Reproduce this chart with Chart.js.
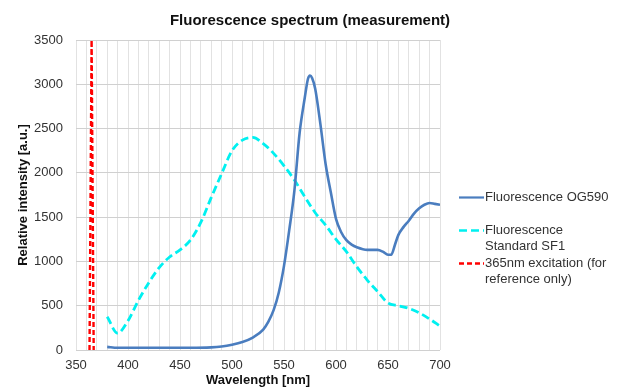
<!DOCTYPE html>
<html>
<head>
<meta charset="utf-8">
<script src="https://cdn.jsdelivr.net/npm/chart.js@4/dist/chart.umd.min.js"></script>
<style>
  html, body { margin: 0; padding: 0; background: #ffffff; }
  #wrap { position: relative; width: 620px; height: 388px; }
</style>
</head>
<body>
<div id="wrap"><canvas id="c" width="620" height="388"></canvas></div>
<script>
// ---- Data ----
const chartTitle = 'Fluorescence spectrum (measurement)';
const xAxisTitle = 'Wavelength [nm]';
const yAxisTitle = 'Relative intensity [a.u.]';

const xTickValues = [350, 400, 450, 500, 550, 600, 650, 700];
const yTickValues = [0, 500, 1000, 1500, 2000, 2500, 3000, 3500];

const og590Label = 'Fluorescence OG590';
const og590Wavelengths = [380, 390, 400, 420, 440, 460, 480, 490, 500, 510, 520, 530, 535, 540, 545, 550, 555, 560, 565, 570, 573, 575, 577, 580, 585, 590, 595, 600, 605, 610, 615, 620, 630, 640, 645, 650, 653, 657, 660, 665, 670, 675, 680, 685, 690, 695, 700];
const og590Values      = [35, 25, 25, 25, 25, 25, 30, 40, 60, 90, 140, 230, 320, 450, 650, 950, 1350, 1800, 2450, 2850, 3060, 3100, 3070, 2950, 2550, 2100, 1780, 1480, 1330, 1240, 1190, 1160, 1130, 1130, 1110, 1075, 1075, 1200, 1300, 1390, 1460, 1540, 1600, 1640, 1660, 1650, 1640];

const sf1Label = 'Fluorescence Standard SF1';
const sf1Wavelengths = [380, 390, 400, 410, 420, 430, 440, 450, 460, 470, 480, 490, 500, 510, 520, 530, 540, 550, 560, 570, 580, 590, 600, 610, 620, 630, 640, 650, 660, 670, 680, 690, 700];
const sf1Values      = [375, 190, 330, 560, 760, 930, 1050, 1130, 1240, 1440, 1720, 1990, 2250, 2370, 2400, 2330, 2220, 2080, 1920, 1730, 1550, 1410, 1250, 1110, 940, 790, 660, 530, 500, 470, 420, 350, 270];

const excitationLabel = '365nm excitation (for reference only)';
const excitationWavelengths = [363, 365, 367];
const excitationValues      = [0, 3500, 0];

function pairs(xs, ys) { return xs.map((x, i) => ({ x: x, y: ys[i] })); }

// ---- Title spans the whole canvas width (legend area included) ----
const wideTitle = {
  id: 'wideTitle',
  afterLayout(chart) {
    const tb = chart.titleBlock;
    if (tb) { tb.left = 0; tb.right = chart.width; tb.width = chart.width; }
  }
};

// ---- Custom legend drawn to the right of the plot ----
const sideLegend = {
  id: 'sideLegend',
  afterDraw(chart) {
    const ctx = chart.ctx;
    const lineX0 = 459, lineX1 = 484, textX = 485;
    const slot = 33, lineH = 16, maxW = 132;
    let y = 197;
    ctx.save();
    ctx.font = '13px "Liberation Sans", Arial, sans-serif';
    ctx.textBaseline = 'middle';
    ctx.textAlign = 'left';
    chart.data.datasets.forEach(ds => {
      const words = ds.label.split(' ');
      const lines = [];
      let cur = '';
      words.forEach(w => {
        const t = cur ? cur + ' ' + w : w;
        if (ctx.measureText(t).width > maxW && cur) { lines.push(cur); cur = w; }
        else cur = t;
      });
      if (cur) lines.push(cur);
      ctx.save();
      ctx.strokeStyle = ds.borderColor;
      ctx.lineWidth = ds.legendWidth || 2.5;
      ctx.setLineDash(ds.legendDash || []);
      ctx.beginPath();
      ctx.moveTo(lineX0, y + 0.5);
      ctx.lineTo(lineX1, y + 0.5);
      ctx.stroke();
      ctx.restore();
      ctx.fillStyle = '#333333';
      lines.forEach((ln, i) => ctx.fillText(ln, textX, y + i * lineH));
      y += slot;
    });
    ctx.restore();
  }
};

const ctx = document.getElementById('c').getContext('2d');
new Chart(ctx, {
  type: 'line',
  data: {
    datasets: [
      {
        label: og590Label,
        data: pairs(og590Wavelengths, og590Values),
        borderColor: '#4a7dbf',
        borderWidth: 2.6,
        pointRadius: 0,
        cubicInterpolationMode: 'monotone',
        legendWidth: 2.2
      },
      {
        label: sf1Label,
        data: pairs(sf1Wavelengths, sf1Values),
        borderColor: '#00f0f0',
        borderWidth: 2.8,
        borderDash: [8, 4],
        pointRadius: 0,
        cubicInterpolationMode: 'monotone',
        legendDash: [8, 4],
        legendWidth: 2.6
      },
      {
        label: excitationLabel,
        data: pairs(excitationWavelengths, excitationValues),
        borderColor: '#ff0000',
        borderWidth: 2.4,
        borderDash: [5, 3],
        pointRadius: 0,
        tension: 0,
        legendDash: [5, 3],
        legendWidth: 2.4
      }
    ]
  },
  options: {
    responsive: false,
    animation: false,
    events: [],
    layout: { padding: { left: 0, right: 180, top: 0, bottom: 0 } },
    plugins: {
      legend: { display: false },
      tooltip: { enabled: false },
      title: {
        display: true,
        text: chartTitle,
        color: '#111111',
        font: { family: '"Liberation Sans", Arial, sans-serif', size: 15, weight: 'bold' },
        padding: { top: 11.5, bottom: 10.5 }
      }
    },
    scales: {
      x: {
        type: 'linear',
        min: 350,
        max: 700,
        border: { display: false },
        grid: { color: '#e2e2e2', lineWidth: 1, drawTicks: false },
        ticks: {
          stepSize: 10,
          autoSkip: false,
          maxRotation: 0,
          padding: 8,
          color: '#333333',
          font: { family: '"Liberation Sans", Arial, sans-serif', size: 13 },
          callback: v => xTickValues.includes(v) ? String(v) : ''
        },
        title: {
          display: true,
          text: xAxisTitle,
          color: '#111111',
          font: { family: '"Liberation Sans", Arial, sans-serif', size: 13, weight: 'bold' },
          padding: { top: -2, bottom: 0 }
        },
        afterFit: s => { s.height = 38; }
      },
      y: {
        type: 'linear',
        min: 0,
        max: 3500,
        border: { display: false },
        grid: { color: '#d0d0d0', lineWidth: 1, drawTicks: false },
        ticks: {
          stepSize: 500,
          padding: 13,
          color: '#333333',
          font: { family: '"Liberation Sans", Arial, sans-serif', size: 13 },
          callback: v => yTickValues.includes(v) ? String(v) : ''
        },
        title: {
          display: true,
          text: yAxisTitle,
          color: '#111111',
          font: { family: '"Liberation Sans", Arial, sans-serif', size: 13, weight: 'bold' },
          padding: { top: 16, bottom: 0 }
        },
        afterFit: s => { s.width = 76; }
      }
    }
  },
  plugins: [wideTitle, sideLegend]
});
</script>
</body>
</html>
